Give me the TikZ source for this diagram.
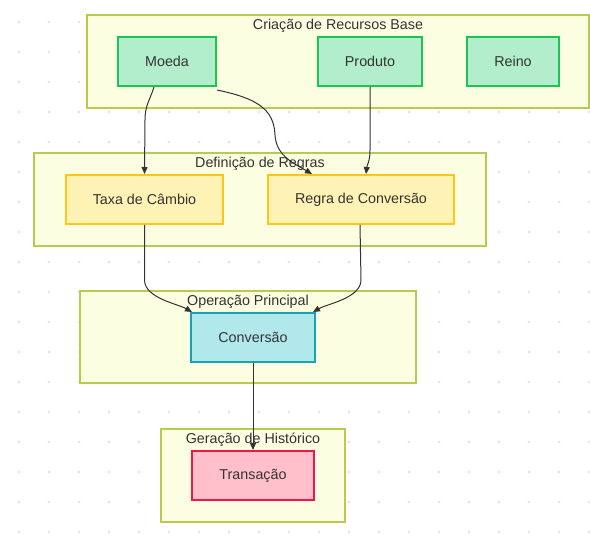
\documentclass[tikz,border=0pt]{standalone}
\usepackage{fontspec}
\setmainfont{Liberation Sans}
\usetikzlibrary{arrows.meta}
\definecolor{dotc}{HTML}{E6E6E6}
\definecolor{clfill}{HTML}{FBFEE0}
\definecolor{cldraw}{HTML}{B8CB4E}
\definecolor{gfill}{HTML}{B2EECB}
\definecolor{gdraw}{HTML}{1DC452}
\definecolor{yfill}{HTML}{FFF2B5}
\definecolor{ydraw}{HTML}{FFC617}
\definecolor{cfill}{HTML}{B0E8EB}
\definecolor{cdraw}{HTML}{17A2B8}
\definecolor{pfill}{HTML}{FFBFCB}
\definecolor{pdraw}{HTML}{F0164A}
\definecolor{txt}{HTML}{333333}
\definecolor{edge}{HTML}{333333}
\begin{document}
\begin{tikzpicture}[x=1pt,y=-1pt,
  font=\fontsize{14.3}{16}\selectfont,
  cluster/.style={draw=cldraw,fill=clfill,line width=1.2pt},
  cltitle/.style={text=txt,inner sep=0pt},
  nbox/.style={rectangle,line width=2pt,inner sep=0pt,text=txt},
  gbox/.style={nbox,draw=gdraw,fill=gfill},
  ybox/.style={nbox,draw=ydraw,fill=yfill},
  cbox/.style={nbox,draw=cdraw,fill=cfill},
  pbox/.style={nbox,draw=pdraw,fill=pfill},
  link/.style={draw=edge,line width=1pt,-{Triangle[length=7pt,width=6pt]}}
]
\useasboundingbox[fill=white] (0,0) rectangle (590,540);
\foreach \xx in {19,49,...,589}{
  \foreach \yy in {22,52,...,532}{
    \fill[dotc] (\xx,\yy) circle (1.6);
  }
}
% clusters
\draw[cluster] (87,15) rectangle (589,108);
\node[cltitle] (t1) at (338,26) {Criação de Recursos Base};
\draw[cluster] (34,153) rectangle (486,246);
\node[cltitle] (t2) at (260,164) {Definição de Regras};
\draw[cluster] (80,291) rectangle (416,383);
\node[cltitle] (t3) at (248,302) {Operação Principal};
\draw[cluster] (161,429) rectangle (345,522);
\node[cltitle] (t4) at (253,440) {Geração de Histórico};
% nodes
\node[gbox,minimum width=98pt,minimum height=49pt] (moeda) at (167,61.5) {Moeda};
\node[gbox,minimum width=104pt,minimum height=49pt] (produto) at (370,61.5) {Produto};
\node[gbox,minimum width=92pt,minimum height=49pt] (reino) at (513,61.5) {Reino};
\node[ybox,minimum width=157pt,minimum height=49pt] (taxa) at (144.5,199.5) {Taxa de Câmbio};
\node[ybox,minimum width=186pt,minimum height=49pt] (regra) at (361,199.5) {Regra de Conversão};
\node[cbox,minimum width=124pt,minimum height=49pt] (conv) at (253,337.5) {Conversão};
\node[pbox,minimum width=122pt,minimum height=49pt] (trans) at (253,475.5) {Transação};
% edges
\draw[link] ([xshift=37pt]moeda.south west) .. controls (150,100) and (145,105) .. (145,120) -- (taxa.north);
\draw[link] ([yshift=-3pt]moeda.south east) .. controls (255,98) and (274,108) .. (275,135) .. controls (276,156) and (295,164) .. ([xshift=45pt]regra.north west);
\draw[link] (produto.south) -- (370,150) .. controls (370,162) and (367,165) .. ([xshift=99pt]regra.north west);
\draw[link] (taxa.south) -- (144.5,280) .. controls (144.5,298) and (178,304) .. ([xshift=2pt]conv.north west);
\draw[link] ([xshift=93pt]regra.south west) -- (361,280) .. controls (361,298) and (327,304) .. ([xshift=-3pt]conv.north east);
\draw[link] (conv.south) -- (trans.north);
\end{tikzpicture}
\end{document}
